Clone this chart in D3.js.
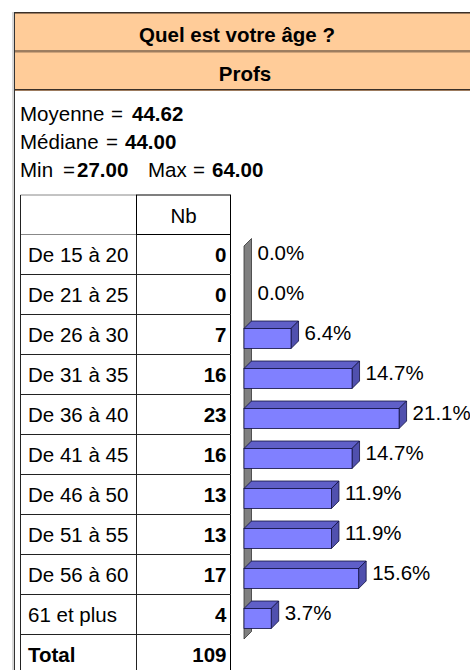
<!DOCTYPE html>
<meta charset="utf-8">
<title>Quel est votre âge ?</title>
<style>
    body {
        margin: 0;
        background: #fff;
        overflow: hidden;
    }

    svg {
        display: block;
        font-family: "Liberation Sans", Arial, sans-serif;
    }

    text {
        font-size: 20.5px;
        fill: #000;
    }
</style>

<body>
    <svg width="470" height="670"></svg>

    <script src="https://d3js.org/d3.v7.min.js"></script>
    <script>
        // data
        const title = "Quel est votre âge ?";
        const group = "Profs";
        const statLabels = ["Moyenne", "Médiane", "Min", "Max"];
        const statValues = ["44.62", "44.00", "27.00", "64.00"];
        const categories = ["De 15 à 20", "De 21 à 25", "De 26 à 30", "De 31 à 35", "De 36 à 40",
            "De 41 à 45", "De 46 à 50", "De 51 à 55", "De 56 à 60", "61 et plus"];
        const counts = [0, 0, 7, 16, 23, 16, 13, 13, 17, 4];
        const percents = [0.0, 0.0, 6.4, 14.7, 21.1, 14.7, 11.9, 11.9, 15.6, 3.7];
        const totalLabel = "Total";
        const total = 109;

        const svg = d3.select("svg");

        // header band
        svg.append("rect")
            .attr("x", 14).attr("y", 12)
            .attr("width", 470).attr("height", 78)
            .attr("fill", "#ffcc99");

        [12.5, 51, 89.5].forEach(yy => {
            svg.append("line")
                .attr("x1", 14).attr("x2", 470)
                .attr("y1", yy).attr("y2", yy)
                .attr("stroke", "#3a3028");
            svg.append("line")
                .attr("x1", 14).attr("x2", 470)
                .attr("y1", yy + 1).attr("y2", yy + 1)
                .attr("stroke", "#9c7b5e");
        });

        // left frame
        svg.append("line")
            .attr("x1", 13).attr("x2", 13)
            .attr("y1", 12).attr("y2", 670)
            .attr("stroke", "#b0b0b0");
        svg.append("line")
            .attr("x1", 14.5).attr("x2", 14.5)
            .attr("y1", 12).attr("y2", 670)
            .attr("stroke", "#333");

        svg.append("text")
            .attr("x", 237).attr("y", 41.5)
            .attr("text-anchor", "middle")
            .attr("font-weight", "bold")
            .text(title);

        svg.append("text")
            .attr("x", 245).attr("y", 81)
            .attr("text-anchor", "middle")
            .attr("font-weight", "bold")
            .text(group);

        // summary stats: label, "=", value (x positions of each piece)
        const statPos = [
            { lx: 20, ex: 111, vx: 132, y: 121 },
            { lx: 20, ex: 106, vx: 125, y: 149 },
            { lx: 20, ex: 63, vx: 77, y: 177 },
            { lx: 148, ex: 193, vx: 212, y: 177 }
        ];
        const stats = svg.append("g").selectAll("g")
            .data(statLabels.map((l, i) => ({ l, v: statValues[i], p: statPos[i] })))
            .join("g");
        stats.append("text").attr("x", d => d.p.lx).attr("y", d => d.p.y).text(d => d.l);
        stats.append("text").attr("x", d => d.p.ex).attr("y", d => d.p.y).text("=");
        stats.append("text").attr("x", d => d.p.vx).attr("y", d => d.p.y)
            .attr("font-weight", "bold").text(d => d.v);

        // table
        const colL = 20.5, colM = 136.5, colR = 230.5;
        const headTop = 195, headBottom = 234.5;
        const rows = categories.concat([totalLabel]);
        const y = d3.scaleBand()
            .domain(rows)
            .range([headBottom, headBottom + 40 * rows.length]);

        const table = svg.append("g");

        // header cell
        table.append("line").attr("x1", colL).attr("x2", colM)
            .attr("y1", headTop).attr("y2", headTop).attr("stroke", "#888");
        table.append("line").attr("x1", colL).attr("x2", colM)
            .attr("y1", headBottom).attr("y2", headBottom).attr("stroke", "#888");
        table.append("rect")
            .attr("x", colM).attr("y", headTop)
            .attr("width", colR - colM).attr("height", headBottom - headTop)
            .attr("fill", "none").attr("stroke", "#000");
        table.append("text")
            .attr("x", (colM + colR) / 2).attr("y", headTop + 27.5)
            .attr("text-anchor", "middle")
            .text("Nb");

        table.append("line").attr("x1", colL).attr("x2", colL)
            .attr("y1", headTop).attr("y2", 670).attr("stroke", "#222");

        const row = table.selectAll("g.row")
            .data(rows)
            .join("g")
            .attr("class", "row")
            .attr("transform", d => `translate(0,${y(d)})`);

        row.append("line")
            .attr("x1", colL).attr("x2", colR)
            .attr("y1", y.bandwidth()).attr("y2", y.bandwidth())
            .attr("stroke", "#222");
        row.append("line")
            .attr("x1", colM).attr("x2", colM)
            .attr("y1", 0).attr("y2", y.bandwidth())
            .attr("stroke", "#222");
        row.append("line")
            .attr("x1", colR).attr("x2", colR)
            .attr("y1", 0).attr("y2", y.bandwidth())
            .attr("stroke", "#000");

        row.append("text")
            .attr("x", 28).attr("y", 27.5)
            .attr("font-weight", (d, i) => i === categories.length ? "bold" : "normal")
            .text(d => d);

        row.append("text")
            .attr("x", 226.5).attr("y", 27.5)
            .attr("text-anchor", "end")
            .attr("font-weight", "bold")
            .text((d, i) => i < counts.length ? counts[i] : total);

        // 3D bars
        const x = d3.scaleLinear().domain([0, 25]).range([244, 244 + 25 * 7.35]);
        const dx = 7.5, dy = 7.5;

        const chart = svg.append("g");
        const first = y(categories[0]);
        const last = y(categories[categories.length - 1]) + y.bandwidth();

        chart.append("path")
            .attr("d", `M${x(0)},${first + 11.5} L${x(0) + dx},${first + 11.5 - dy}
                        L${x(0) + dx},${last + 4.5 - dy} L${x(0)},${last + 4.5} Z`)
            .attr("fill", "#808080")
            .attr("stroke", "#333")
            .attr("stroke-width", 0.8);

        const bars = chart.selectAll("g.bar")
            .data(categories.map((c, i) => ({ c, p: percents[i] })))
            .join("g")
            .attr("class", "bar")
            .attr("transform", d => `translate(0,${y(d.c)})`);

        const drawn = bars.filter(d => d.p > 0);
        const barTop = 14, barH = 20;

        drawn.append("path")
            .attr("d", d => `M${x(0)},${barTop} L${x(0) + dx},${barTop - dy} L${x(d.p) + dx},${barTop - dy} L${x(d.p)},${barTop} Z`)
            .attr("fill", "#5f5fc8")
            .attr("stroke", "#101040")
            .attr("stroke-width", 0.8);
        drawn.append("path")
            .attr("d", d => `M${x(d.p)},${barTop} L${x(d.p) + dx},${barTop - dy} L${x(d.p) + dx},${barTop + barH - dy} L${x(d.p)},${barTop + barH} Z`)
            .attr("fill", "#5050ae")
            .attr("stroke", "#101040")
            .attr("stroke-width", 0.8);
        drawn.append("rect")
            .attr("x", x(0)).attr("y", barTop)
            .attr("width", d => x(d.p) - x(0))
            .attr("height", barH)
            .attr("fill", "#8080ff")
            .attr("stroke", "#101040")
            .attr("stroke-width", 0.8);

        bars.append("text")
            .attr("x", d => x(d.p) + dx + 6)
            .attr("y", 25.5)
            .text(d => d.p.toFixed(1) + "%");
    </script>
</body>

</html>
